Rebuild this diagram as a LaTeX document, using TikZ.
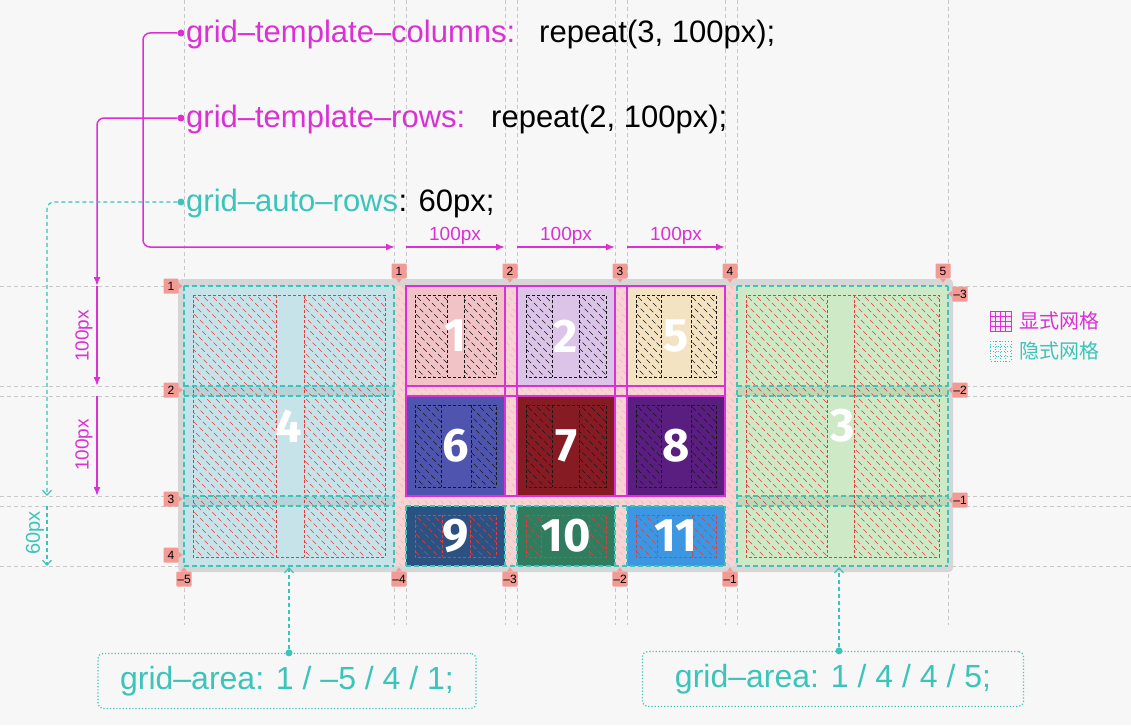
\documentclass[tikz,border=0pt]{standalone}
\usepackage{fontspec}
\setmainfont{Liberation Sans}
\newfontfamily\cjk{Noto Sans CJK SC}
\newfontfamily\numfont{Fira Sans}
\usetikzlibrary{arrows.meta}
\definecolor{bgc}{RGB}{247,247,247}
\definecolor{guidec}{RGB}{200,200,200}
\definecolor{boxgray}{RGB}{214,214,214}
\definecolor{gapc}{RGB}{247,212,212}
\definecolor{gaphc}{RGB}{238,178,178}
\definecolor{magc}{RGB}{218,48,212}
\definecolor{cyc}{RGB}{58,196,186}
\definecolor{salc}{RGB}{242,154,148}
\definecolor{ink}{RGB}{25,25,25}
\definecolor{redc}{RGB}{228,60,60}
\definecolor{c1}{RGB}{242,195,198}
\definecolor{c2}{RGB}{220,195,232}
\definecolor{c5}{RGB}{243,227,195}
\definecolor{c6}{RGB}{79,85,174}
\definecolor{c7}{RGB}{134,27,35}
\definecolor{c8}{RGB}{90,29,128}
\definecolor{c9}{RGB}{44,82,131}
\definecolor{c10}{RGB}{47,124,94}
\definecolor{c11}{RGB}{61,150,226}
\definecolor{c4}{RGB}{199,227,234}
\definecolor{c3}{RGB}{205,233,197}

\tikzset{
  guide/.style={guidec,line width=0.8pt,dash pattern=on 4pt off 3pt},
  gaphatch/.style={gaphc,line width=0.6pt,dash pattern=on 4pt off 4pt},
  hatchline/.style={line width=0.5pt,dash pattern=on 5pt off 3pt},
  innerbox/.style={line width=0.7pt,dash pattern=on 3pt off 2pt},
  expline/.style={magc,line width=2pt},
  impline/.style={cyc,line width=1.5pt,dash pattern=on 5pt off 3pt},
  num/.style={text=white,font=\numfont\bfseries\fontsize{47}{47}\selectfont},
  linenum/.style={fill=salc,text=black,font=\fontsize{12}{12}\selectfont,inner sep=1pt,minimum width=15pt,minimum height=15pt,rounded corners=1pt},
  code/.style={font=\fontsize{31}{31}\selectfont,anchor=base west,inner sep=0pt},
  mlabel/.style={text=magc,font=\fontsize{19}{19}\selectfont,inner sep=0pt},
  clabel/.style={text=cyc,font=\fontsize{20}{20}\selectfont,inner sep=0pt},
  mline/.style={magc,line width=1.5pt},
  marrow/.style={magc,line width=1.5pt,-{Latex[length=9pt,width=7pt]}},
  cline/.style={cyc,line width=1.2pt,dash pattern=on 4pt off 3pt},
  carrow/.style={cyc,line width=1.2pt,dash pattern=on 4pt off 3pt,-{Straight Barb[length=5pt,width=9pt]}},
  dotm/.style={circle,fill=magc,inner sep=0pt,minimum size=7pt},
  dotc/.style={circle,fill=cyc,inner sep=0pt,minimum size=7pt},
  areabox/.style={draw=cyc,line width=1.2pt,dotted,rounded corners=5pt,text=cyc,font=\fontsize{32}{32}\selectfont}
}

\newcommand{\griditem}[9]{%
  \fill[#5] (#1,#2) rectangle (#3,#4);
  \begin{scope}
    \clip (#1+9,#2+9) rectangle (#6,#4-9) (#7,#2+9) rectangle (#3-9,#4-9);
    \foreach \d in {-270,-261,...,200} \draw[hatchline,#8] (#1+\d,#2) -- ++(300,300);
  \end{scope}
  \draw[innerbox,#8] (#1+9,#2+9) rectangle (#3-9,#4-9) (#6,#2+9) -- (#6,#4-9) (#7,#2+9) -- (#7,#4-9);
  \node[num] (n#9) at ({(#1+#3)/2},{(#2+#4)/2}) {#9};
}

\begin{document}
\begin{tikzpicture}[x=1pt,y=-1pt]
\useasboundingbox (0,0) rectangle (1131,725);
\fill[bgc] (0,0) rectangle (1131,725);
\foreach \x in {184,394,406,505,517,615,627,725,737,948} \draw[guide] (\x,0) -- (\x,625);
\foreach \y in {286,386,396,496,506,566} \draw[guide] (0,\y) -- (1131,\y);

\fill[boxgray,rounded corners=4pt] (178,279) rectangle (953,572);
\fill[gapc] (184,286) rectangle (948,566);
\begin{scope}
  \clip (394,286) rectangle (737,566);
  \foreach \d in {-280,-272,...,350} \draw[gaphatch] (394+\d,286) -- ++(290,290);
\end{scope}

\griditem{406}{286}{505}{386}{c1}{447}{464}{ink}{1}
\griditem{517}{286}{615}{386}{c2}{552}{579}{ink}{2}
\griditem{627}{286}{725}{386}{c5}{661}{691}{ink}{5}
\griditem{406}{396}{505}{496}{c6}{441}{471}{ink}{6}
\griditem{517}{396}{615}{496}{c7}{552}{579}{ink}{7}
\griditem{627}{396}{725}{496}{c8}{661}{691}{ink}{8}
\griditem{406}{506}{505}{566}{c9}{442}{470}{redc}{9}
\griditem{517}{506}{615}{566}{c10}{541}{589}{redc}{10}
\griditem{627}{506}{725}{566}{c11}{657}{692}{redc}{11}
\griditem{184}{286}{394}{566}{c4}{276}{304}{redc}{4}
\griditem{737}{286}{948}{566}{c3}{827}{854}{redc}{3}
\foreach \y in {386,496} {
  \fill[black,opacity=0.07] (184,\y) rectangle (394,\y+10);
  \fill[black,opacity=0.07] (737,\y) rectangle (948,\y+10);
}

\foreach \x in {406,505,517,615,627,725} \draw[expline] (\x,286) -- (\x,496);
\foreach \y in {286,386,396,496} \draw[expline] (405,\y) -- (726,\y);
\foreach \x in {184,394,737,948} \draw[impline] (\x,286) -- (\x,566);
\foreach \x in {406,505,517,615,627,725} \draw[impline] (\x,506) -- (\x,566);
\foreach \y in {286,386,396,496,506,566} {
  \draw[impline] (184,\y) -- (394,\y);
  \draw[impline] (737,\y) -- (948,\y);
}
\foreach \y in {506,566} \draw[impline] (406,\y) -- (725,\y);

\foreach \n/\x in {1/399,2/510,3/620,4/730,5/943} {
  \node[linenum] (top\n) at (\x,271) {\n};
  \fill[salc] ([xshift=-3pt]top\n.south) -- ([xshift=3pt]top\n.south) -- ([yshift=-4pt]top\n.south) -- cycle;
}
\foreach \n/\y in {1/286,2/390,3/499,4/555} {
  \node[linenum] (left\n) at (171,\y) {\n};
  \fill[salc] ([yshift=-3pt]left\n.east) -- ([yshift=3pt]left\n.east) -- ([xshift=4pt]left\n.east) -- cycle;
}
\foreach \n/\x in {5/184,4/399,3/510,2/620,1/730} {
  \node[linenum] (bot\n) at (\x,579) {–\n};
  \fill[salc] ([xshift=-3pt]bot\n.north) -- ([xshift=3pt]bot\n.north) -- ([yshift=4pt]bot\n.north) -- cycle;
}
\foreach \n/\y in {3/294,2/390,1/500} {
  \node[linenum] (right\n) at (960,\y) {–\n};
  \fill[salc] ([yshift=-3pt]right\n.west) -- ([yshift=3pt]right\n.west) -- ([xshift=-4pt]right\n.west) -- cycle;
}

\node[code,text=magc] (tcols) at (186,42) {grid–template–columns:};
\node[code] (vcols) at (539,42) {repeat(3, 100px);};
\node[code,text=magc] (trows) at (186,127) {grid–template–rows:};
\node[code] (vrows) at (491,127) {repeat(2, 100px);};
\node[code,text=cyc] (tauto) at (186,211) {grid–auto–rows};
\node[code] (vauto) at (tauto.base east) {: 60px;};
\node[dotm] (dcols) at (181,33) {};
\node[dotm] (drows) at (181,118) {};
\node[dotc] (dauto) at (181,202) {};

\foreach \n/\x in {a/395,b/406,c/505,d/517,e/615,f/627,g/725} \coordinate (col\n) at (\x,247);
\draw[marrow,rounded corners=7pt] (dcols) -| (143,247) -- (cola);
\draw[marrow] (colb) -- (colc);
\draw[marrow] (cold) -- (cole);
\draw[marrow] (colf) -- (colg);
\node[mlabel] (w1) at (455,236) {100px};
\node[mlabel] (w2) at (566,236) {100px};
\node[mlabel] (w3) at (676,236) {100px};

\foreach \n/\y in {a/286,b/386,c/396,d/496} \coordinate (row\n) at (97,\y);
\draw[marrow,rounded corners=7pt] (drows) -| (rowa);
\draw[marrow] (rowa) -- (rowb);
\draw[marrow] (rowc) -- (rowd);
\node[mlabel,rotate=90] (h1) at (84,336) {100px};
\node[mlabel,rotate=90] (h2) at (84,445) {100px};

\foreach \n/\y in {a/496,b/506,c/566} \coordinate (auto\n) at (47,\y);
\draw[carrow,rounded corners=7pt] (dauto) -| (autoa);
\draw[carrow] (autob) -- (autoc);
\node[clabel,rotate=90] (h3) at (35,533) {60px};

\node[areabox,minimum width=378pt,minimum height=55pt] (areaL) at (287,681) {grid–area: 1 / –5 / 4 / 1;};
\node[areabox,minimum width=381pt,minimum height=55pt] (areaR) at (833,679) {grid–area: 1 / 4 / 4 / 5;};
\node[dotc] (dL) at (areaL.north -| n4) {};
\node[dotc] (dR) at (areaR.north -| 839,0) {};
\coordinate (i4) at (289,567);
\coordinate (i3) at (839,567);
\draw[carrow] (dL) -- (i4);
\draw[carrow] (dR) -- (i3);

\draw[magc,fill=magc!12,line width=1pt] (990,311) rectangle (1011,331);
\foreach \k in {1,2,3} {
  \draw[magc,line width=0.6pt] (990+5.25*\k,311) -- (990+5.25*\k,331);
  \draw[magc,line width=0.6pt] (990,311+5*\k) -- (1011,311+5*\k);
}
\draw[cyc,line width=1pt,dotted] (990,341) rectangle (1011,361);
\foreach \k in {1,2,3} {
  \draw[cyc,line width=0.8pt,dotted] (990+5.25*\k,341) -- (990+5.25*\k,361);
  \draw[cyc,line width=0.8pt,dotted] (990,341+5*\k) -- (1011,341+5*\k);
}
\node[anchor=west,text=magc,font=\cjk\fontsize{20}{20}\selectfont,inner sep=0pt] (lgexp) at (1019,321) {显式网格};
\node[anchor=west,text=cyc,font=\cjk\fontsize{20}{20}\selectfont,inner sep=0pt] (lgimp) at (1019,351) {隐式网格};
\end{tikzpicture}
\end{document}
